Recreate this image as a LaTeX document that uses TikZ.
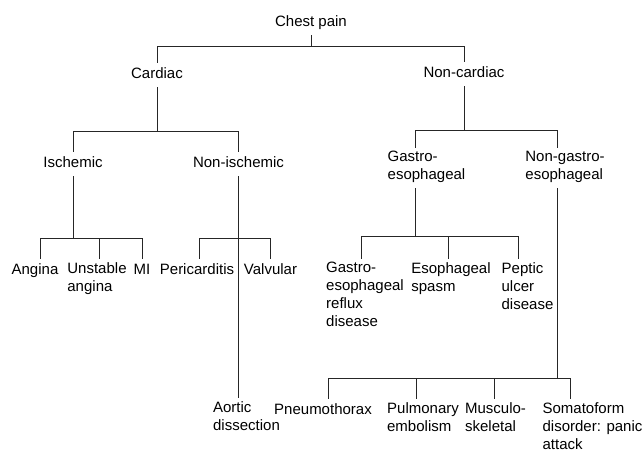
\documentclass[tikz,border=0pt]{standalone}
\usepackage{fontspec}
\setmainfont{Liberation Sans}

\begin{document}
\begin{tikzpicture}[
  x=1pt, y=-1pt,
  term/.style={font=\fontsize{15}{18}\selectfont, align=left, anchor=north,
               inner xsep=0pt, inner ysep=3pt, text=black,
               execute at begin node=\strut, execute at end node=\strut},
  link/.style={draw=black!85, line width=0.8pt},
]
  \useasboundingbox (0,0) rectangle (644,452);

  %% Root and first split
  \node[term] (chest) at (311,11) {Chest pain};
  \node[term] (cardiac) at (157,63) {Cardiac};
  \node[term] (noncard) at (464,62) {Non-cardiac};

  %% Cardiac side
  \node[term] (isch) at (73,152) {Ischemic};
  \node[term] (nonisch) at (238.5,152) {Non-ischemic};
  \node[term] (angina) at (35,259) {Angina};
  \node[term] (unstable) at (97,259) {Unstable\\angina};
  \node[term] (mi) at (142,259) {MI};
  \node[term] (peri) at (197,259) {Pericarditis};
  \node[term] (valv) at (270.5,259) {Valvular};
  \node[term] (aortic) at (246.5,398) {Aortic\\dissection};

  %% Non-cardiac side
  \node[term] (gastro) at (426.5,148) {Gastro-\\esophageal};
  \node[term] (nongastro) at (565,148) {Non-gastro-\\esophageal};
  \node[term] (gerd) at (365,259) {Gastro-\\esophageal\\reflux\\disease};
  \node[term] (spasm) at (451,259) {Esophageal\\spasm};
  \node[term] (peptic) at (527.5,259) {Peptic\\ulcer\\disease};
  \node[term] (pneumo) at (323,399) {Pneumothorax};
  \node[term] (pulm) at (423,399) {Pulmonary\\embolism};
  \node[term] (musc) at (495.5,399) {Musculo-\\skeletal};
  \node[term] (somato) at (592.5,399) {Somatoform\\disorder: panic\\attack};

  %% Branch bars
  \path (chest.south) ++(0,11) coordinate (b0);
  \path (cardiac.south) ++(0,44) coordinate (b1);
  \path (noncard.south) ++(0,44) coordinate (b2);
  \path (isch.south) ++(0,62) coordinate (b3);
  \path (nonisch.south) ++(0,62) coordinate (b4);
  \path ([xshift=-11.5pt]gastro.south) ++(0,48) coordinate (b5);
  \path ([xshift=-8pt]nongastro.south) ++(0,190) coordinate (b6);

  %% Connectors
  \draw[link] (chest.south) -- (b0);
  \draw[link] (b0) -| (cardiac.north);
  \draw[link] (b0) -| (noncard.north);

  \draw[link] (cardiac.south) -- (b1);
  \draw[link] (b1) -| (isch.north);
  \draw[link] (b1) -| (nonisch.north);

  \draw[link] (isch.south) -- (b3);
  \foreach \kid/\dx in {angina/5, unstable/2, mi/0}
    \draw[link] (b3) -| ([xshift=\dx pt]\kid.north);

  \draw[link] (nonisch.south) -- (b4);
  \foreach \kid/\dx in {peri/2, valv/-0.5}
    \draw[link] (b4) -| ([xshift=\dx pt]\kid.north);
  \draw[link] (b4) -- (aortic.north -| b4);

  \draw[link] (noncard.south) -- (b2);
  \draw[link] (b2) -| ([xshift=-11.5pt]gastro.north);
  \draw[link] (b2) -| ([xshift=-8pt]nongastro.north);

  \draw[link] ([xshift=-11.5pt]gastro.south) -- (b5);
  \foreach \kid/\dx in {gerd/-4, spasm/-3, peptic/-9.5}
    \draw[link] (b5) -| ([xshift=\dx pt]\kid.north);

  \draw[link] ([xshift=-8pt]nongastro.south) -- (b6);
  \foreach \kid/\dx in {pneumo/5, pulm/-7, musc/-1.5, somato/-22.5}
    \draw[link] (b6) -| ([xshift=\dx pt]\kid.north);
\end{tikzpicture}
\end{document}
